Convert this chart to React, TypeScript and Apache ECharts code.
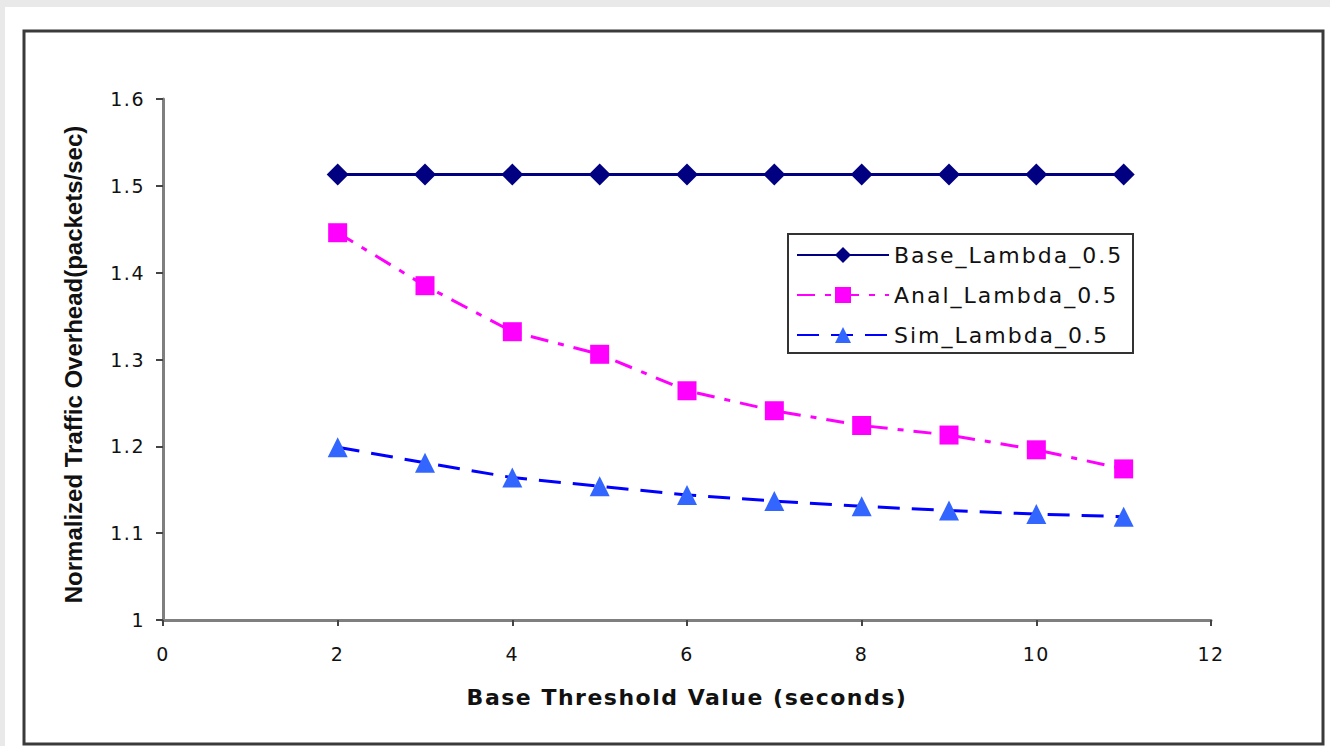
import React, { useEffect, useRef } from "react";
import * as echarts from "echarts";

const xValues = [2, 3, 4, 5, 6, 7, 8, 9, 10, 11];
const baseLambda = [1.513, 1.513, 1.513, 1.513, 1.513, 1.513, 1.513, 1.513, 1.513, 1.513];
const analLambda = [1.446, 1.385, 1.332, 1.306, 1.264, 1.241, 1.224, 1.213, 1.196, 1.174];
const simLambda = [1.199, 1.181, 1.164, 1.154, 1.144, 1.137, 1.131, 1.126, 1.122, 1.119];
const seriesNames = ["Base_Lambda_0.5", "Anal_Lambda_0.5", "Sim_Lambda_0.5"];
const xAxisTitle = "Base Threshold Value (seconds)";
const yAxisTitle = "Normalized Traffic Overhead(packets/sec)";

export default function App() {
  const ref = useRef<HTMLDivElement>(null);
  useEffect(() => {
    if (!ref.current) return;
    const chart = echarts.init(ref.current, null, { renderer: "svg" });
    const pairs = (ys: number[]) => xValues.map((x, i) => [x, ys[i]]);
    const spaceTexts = () => {
      if (!ref.current) return;
      ref.current.querySelectorAll("text").forEach((t) => {
        const s = (t.textContent || "").trim();
        const el = t as unknown as HTMLElement;
        if (seriesNames.indexOf(s) >= 0) el.style.letterSpacing = "2px";
        else if (s === xAxisTitle) el.style.letterSpacing = "1.5px";
        else if (/^\d+(\.\d)?$/.test(s)) el.style.letterSpacing = "1.5px";
      });
    };
    chart.on("finished", spaceTexts);
    chart.setOption({
      animation: false,
      backgroundColor: "#e9e9e9",
      graphic: [
        { type: "rect", shape: { x: 5, y: 7, width: 1325, height: 739 }, style: { fill: "#ffffff" }, z: -10 },
        { type: "rect", shape: { x: 24, y: 31, width: 1299, height: 713 }, style: { fill: "none", stroke: "#3a3a3a", lineWidth: 3 }, z: -9 },
        { type: "rect", shape: { x: 788, y: 234, width: 345, height: 119 }, style: { fill: "#ffffff", stroke: "#333333", lineWidth: 2 }, z: 3 },
      ],
      grid: { left: 163, right: 119, top: 99, bottom: 126, containLabel: false },
      legend: {
        orient: "vertical",
        left: 788,
        top: 234,
        z: 5,
        padding: [10, 10, 10, 8],
        itemWidth: 92,
        itemHeight: 20,
        itemGap: 18,
        borderWidth: 0,
        textStyle: { fontFamily: "DejaVu Sans", fontSize: 22, color: "#111111" },
        data: seriesNames,
      },
      xAxis: {
        type: "value",
        min: 0,
        max: 12,
        interval: 2,
        name: xAxisTitle,
        nameLocation: "middle",
        nameGap: 66,
        nameTextStyle: { fontFamily: "DejaVu Sans", fontWeight: "bold", fontSize: 22, color: "#111111" },
        axisLine: { lineStyle: { color: "#7f7f7f", width: 3 } },
        axisTick: { show: true, length: 6, lineStyle: { color: "#444444", width: 2 } },
        axisLabel: { margin: 24, fontFamily: "DejaVu Sans", fontSize: 19, color: "#111111" },
        splitLine: { show: false },
      },
      yAxis: {
        type: "value",
        min: 1,
        max: 1.6,
        interval: 0.1,
        name: yAxisTitle,
        nameLocation: "middle",
        nameGap: 78,
        nameRotate: 90,
        nameTextStyle: { fontFamily: "Liberation Sans", fontWeight: "bold", fontSize: 24, color: "#111111", padding: [0, 10, 0, 0] },
        axisLine: { show: true, lineStyle: { color: "#7f7f7f", width: 3 } },
        axisTick: { show: true, length: 7, lineStyle: { color: "#444444", width: 2 } },
        axisLabel: {
          margin: 18,
          fontFamily: "DejaVu Sans",
          fontSize: 19,
          color: "#111111",
          formatter: (v: number) => String(Math.round(v * 10) / 10),
        },
        splitLine: { show: false },
      },
      series: [
        {
          name: seriesNames[0],
          type: "line",
          data: pairs(baseLambda),
          symbol: "diamond",
          symbolSize: 22,
          lineStyle: { color: "#000080", width: 3, type: "solid" },
          itemStyle: { color: "#000080" },
        },
        {
          name: seriesNames[1],
          type: "line",
          data: pairs(analLambda),
          symbol: "rect",
          symbolSize: 19,
          lineStyle: { color: "#ff00ff", width: 3, type: [18, 10, 6, 10] },
          itemStyle: { color: "#ff00ff" },
        },
        {
          name: seriesNames[2],
          type: "line",
          data: pairs(simLambda),
          symbol: "triangle",
          symbolSize: 20,
          lineStyle: { color: "#0000ff", width: 3, type: [22, 12] },
          itemStyle: { color: "#3366ff" },
        },
      ],
    });
    spaceTexts();
    const raf = requestAnimationFrame(spaceTexts);
    return () => {
      cancelAnimationFrame(raf);
      chart.dispose();
    };
  }, []);
  return (
    <div
      ref={ref}
      style={{ position: "fixed", left: 0, top: 0, width: 1330, height: 746 }}
    />
  );
}
